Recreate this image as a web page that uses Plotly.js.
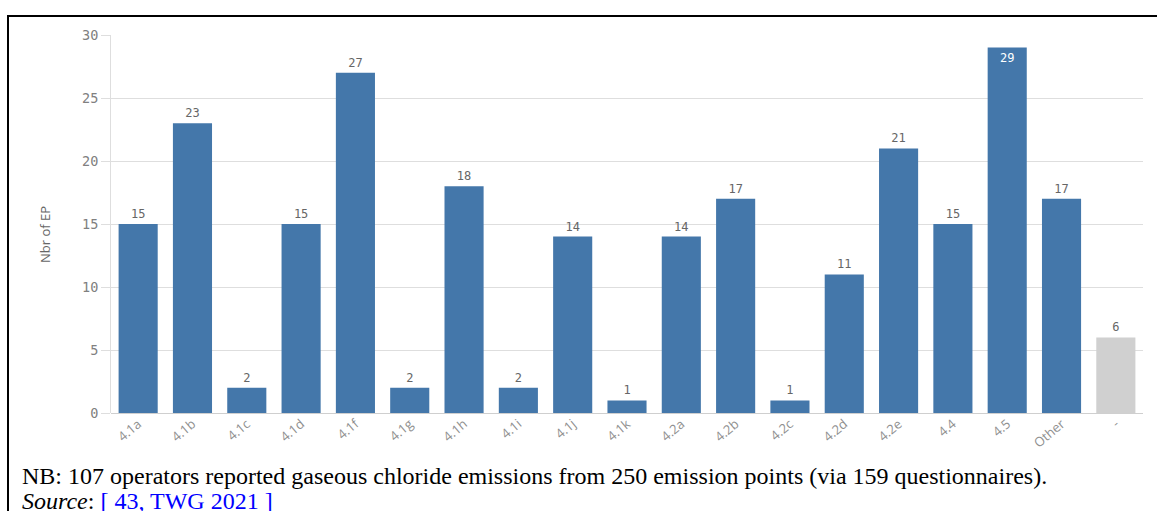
<!DOCTYPE html>
<html>
<head>
<meta charset="utf-8">
<script src="https://cdn.plot.ly/plotly-3.0.1.min.js"></script>
<style>
  html, body { margin: 0; padding: 0; background: #fff; }
  #chart { width: 1157px; height: 511px; }
</style>
</head>
<body>
<div id="chart"></div>
<script>
// ---- data ----
const categories = ['4.1a','4.1b','4.1c','4.1d','4.1f','4.1g','4.1h','4.1i','4.1j','4.1k',
                    '4.2a','4.2b','4.2c','4.2d','4.2e','4.4','4.5','Other','-'];
const values = [15, 23, 2, 15, 27, 2, 18, 2, 14, 1, 14, 17, 1, 11, 21, 15, 29, 17, 6];
const yTickVals = [0, 5, 10, 15, 20, 25, 30];
const yTitle = 'Nbr of EP';
const noteText = 'NB: 107 operators reported gaseous chloride emissions from 250 emission points (via 159 questionnaires).';
const sourceLabel = 'Source';
const sourceRef = '[ 43, TWG 2021 ]';

// ---- layout helpers (pixel -> paper) ----
const W = 1157, H = 511;
const M = { l: 111, r: 14, t: 35, b: 98 };
const PW = W - M.l - M.r, PH = H - M.t - M.b;
const px2x = px => (px - M.l) / PW;
const py2y = py => 1 - (py - M.t) / PH;

const BLUE = '#4477aa', GREY = '#d0d0d0';
const barColors = categories.map(c => c === '-' ? GREY : BLUE);
const yMax = 30;
const textPos = values.map(v => v >= yMax - 1.5 ? 'inside' : 'outside');
const textCol = values.map(v => v >= yMax - 1.5 ? '#ffffff' : '#666666');

const trace = {
  type: 'bar',
  x: categories,
  y: values,
  marker: { color: barColors, line: { width: 0 } },
  text: values.map(String),
  textposition: textPos,
  insidetextanchor: 'end',
  constraintext: 'none',
  cliponaxis: false,
  textfont: { family: 'DejaVu Sans Mono, monospace', size: 12, color: textCol },
  hoverinfo: 'x+y'
};

const layout = {
  width: W, height: H,
  margin: M,
  paper_bgcolor: '#ffffff',
  plot_bgcolor: '#ffffff',
  bargap: 0.28,
  showlegend: false,
  xaxis: {
    type: 'category',
    range: [-0.5, categories.length - 0.5],
    tickangle: -40,
    tickfont: { family: 'Open Sans, sans-serif', size: 13, color: '#8f8f8f' },
    showgrid: false,
    zeroline: false,
    showline: false,
    ticks: '',
    automargin: false,
    fixedrange: true
  },
  yaxis: {
    range: [0, yMax],
    tickvals: yTickVals,
    ticktext: yTickVals.map(String),
    tickfont: { family: 'DejaVu Sans Mono, monospace', size: 13.5, color: '#808080' },
    showgrid: true,
    gridcolor: '#dedede',
    gridwidth: 1,
    zeroline: true,
    zerolinecolor: '#cfcfcf',
    zerolinewidth: 1,
    showline: true,
    linecolor: '#dedede',
    linewidth: 1,
    ticks: 'outside',
    ticklen: 9,
    tickcolor: '#dedede',
    automargin: false,
    fixedrange: true
  },
  shapes: [
    { type: 'line', xref: 'paper', yref: 'paper',
      x0: px2x(7), x1: px2x(1160), y0: py2y(16), y1: py2y(16),
      line: { color: '#000000', width: 2 } },
    { type: 'line', xref: 'paper', yref: 'paper',
      x0: px2x(8), x1: px2x(8), y0: py2y(15), y1: py2y(515),
      line: { color: '#000000', width: 2 } }
  ],
  annotations: [
    { xref: 'paper', yref: 'paper', x: px2x(45), y: py2y(235),
      text: yTitle, textangle: -90, showarrow: false,
      xanchor: 'center', yanchor: 'middle',
      font: { family: 'Open Sans, sans-serif', size: 13, color: '#666666' } },
    { xref: 'paper', yref: 'paper', x: px2x(20), y: py2y(476),
      text: noteText, showarrow: false, xanchor: 'left', yanchor: 'middle',
      font: { family: 'Liberation Serif, Times New Roman, serif', size: 24, color: '#000000' } },
    { xref: 'paper', yref: 'paper', x: px2x(20), y: py2y(501),
      text: '<i>' + sourceLabel + '</i>: <span style="color:#0000ff">' + sourceRef + '</span>',
      showarrow: false, xanchor: 'left', yanchor: 'middle',
      font: { family: 'Liberation Serif, Times New Roman, serif', size: 24, color: '#000000' } }
  ]
};

Plotly.newPlot('chart', [trace], layout, { displayModeBar: false, staticPlot: true });
</script>
</body>
</html>
